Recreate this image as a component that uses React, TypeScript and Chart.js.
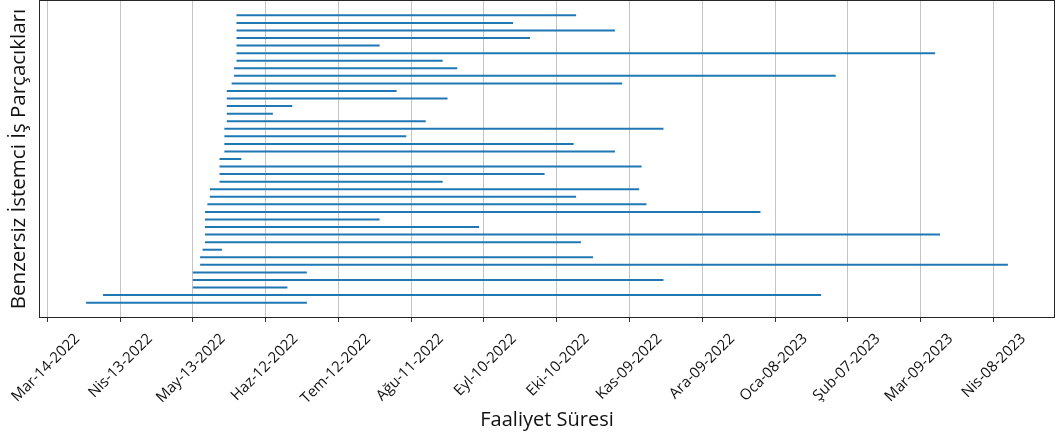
import React, { useEffect, useRef } from 'react';
import { Chart, registerables } from 'chart.js';

Chart.register(...registerables);

// Threads ordered bottom (index 0) to top
const threadStarts = [
  '2022-03-30', '2022-04-06', '2022-05-13', '2022-05-13', '2022-05-13',
  '2022-05-16', '2022-05-16', '2022-05-17', '2022-05-18', '2022-05-18',
  '2022-05-18', '2022-05-18', '2022-05-18', '2022-05-19', '2022-05-20',
  '2022-05-20', '2022-05-24', '2022-05-24', '2022-05-24', '2022-05-24',
  '2022-05-26', '2022-05-26', '2022-05-26', '2022-05-26', '2022-05-27',
  '2022-05-27', '2022-05-27', '2022-05-27', '2022-05-27', '2022-05-29',
  '2022-05-30', '2022-05-30', '2022-05-31', '2022-05-31', '2022-05-31',
  '2022-05-31', '2022-05-31', '2022-05-31', '2022-05-31',
];

const threadEnds = [
  '2022-06-29', '2023-01-27', '2022-06-21', '2022-11-23', '2022-06-29',
  '2023-04-14', '2022-10-25', '2022-05-25', '2022-10-20', '2023-03-17',
  '2022-09-08', '2022-07-29', '2023-01-02', '2022-11-16', '2022-10-18',
  '2022-11-13', '2022-08-24', '2022-10-05', '2022-11-14', '2022-06-02',
  '2022-11-03', '2022-10-17', '2022-08-09', '2022-11-23', '2022-08-17',
  '2022-06-15', '2022-06-23', '2022-08-26', '2022-08-05', '2022-11-06',
  '2023-02-02', '2022-08-30', '2022-08-24', '2023-03-15', '2022-07-29',
  '2022-09-29', '2022-11-03', '2022-09-22', '2022-10-18',
];

const tickDates = [
  '2022-03-14', '2022-04-13', '2022-05-13', '2022-06-12', '2022-07-12',
  '2022-08-11', '2022-09-10', '2022-10-10', '2022-11-09', '2022-12-09',
  '2023-01-08', '2023-02-07', '2023-03-09', '2023-04-08',
];

const monthNames = ['Oca', 'Şub', 'Mar', 'Nis', 'May', 'Haz', 'Tem', 'Ağu', 'Eyl', 'Eki', 'Kas', 'Ara'];

const xTitle = 'Faaliyet Süresi';
const yTitle = 'Benzersiz İstemci İş Parçacıkları';

const DAY = 86400000;
const toDays = (s: string) => Date.parse(s + 'T00:00:00Z') / DAY;
const fmt = (v: number) => {
  const d = new Date(Math.round(v) * DAY);
  return `${monthNames[d.getUTCMonth()]}-${String(d.getUTCDate()).padStart(2, '0')}-${d.getUTCFullYear()}`;
};

const W = 1059;
const H = 436;

const framePlugin = {
  id: 'frame',
  afterDatasetsDraw(chart: any) {
    const { ctx, chartArea } = chart;
    ctx.save();
    ctx.strokeStyle = '#262626';
    ctx.lineWidth = 1;
    ctx.strokeRect(
      Math.round(chartArea.left) - 0.5,
      Math.round(chartArea.top) - 0.5,
      Math.round(chartArea.right - chartArea.left) + 1,
      Math.round(chartArea.bottom - chartArea.top) + 1
    );
    ctx.restore();
  },
};

export default function App() {
  const ref = useRef<HTMLCanvasElement | null>(null);

  useEffect(() => {
    if (!ref.current) return;
    const starts = threadStarts.map(toDays);
    const ends = threadEnds.map(toDays);
    const dMin = Math.min(...starts);
    const dMax = Math.max(...ends);
    const xPad = (dMax - dMin) * 0.05;
    const n = threadStarts.length;
    const yPad = (n - 1) * 0.05;

    Chart.defaults.font.family = '"Open Sans", "DejaVu Sans", sans-serif';
    Chart.defaults.color = '#111';

    const chart = new Chart(ref.current, {
      type: 'scatter',
      data: {
        datasets: starts.map((s, i) => ({
          data: [
            { x: s, y: i },
            { x: ends[i], y: i },
          ],
          showLine: true,
          borderColor: '#1f77b4',
          backgroundColor: '#1f77b4',
          borderWidth: 2,
          pointRadius: 0,
          borderCapStyle: 'butt',
        })),
      },
      options: {
        responsive: false,
        animation: false,
        devicePixelRatio: 1,
        layout: { padding: { top: 1, right: 5, left: 0, bottom: 0 } },
        plugins: {
          legend: { display: false },
          tooltip: { enabled: false },
        },
        scales: {
          x: {
            type: 'linear',
            min: dMin - xPad,
            max: dMax + xPad,
            afterFit: (s: any) => {
              s.height = 119;
              s.paddingLeft = 0;
              s.paddingRight = 0;
            },
            afterBuildTicks: (s: any) => {
              s.ticks = tickDates.map((d) => ({ value: toDays(d) }));
            },
            ticks: {
              autoSkip: false,
              minRotation: 45,
              maxRotation: 45,
              padding: 8,
              labelOffset: 30,
              color: '#111',
              font: { size: 15 },
              callback: (v: any) => fmt(Number(v)),
            },
            grid: {
              color: '#c4c4c4',
              tickColor: '#333',
              tickLength: 5,
              lineWidth: 1,
            },
            border: { display: false },
            title: {
              display: true,
              text: xTitle,
              color: '#111',
              font: { size: 20 },
              padding: { top: 0, bottom: 4 },
            },
          },
          y: {
            type: 'linear',
            min: -yPad,
            max: n - 1 + yPad,
            afterFit: (s: any) => {
              s.width = 40;
            },
            ticks: { display: false },
            grid: { display: false },
            border: { display: false },
            title: {
              display: true,
              text: yTitle,
              color: '#111',
              font: { size: 20.5 },
              padding: { top: 7 },
            },
          },
        },
      },
      plugins: [framePlugin],
    } as any);
    return () => chart.destroy();
  }, []);

  return (
    <div style={{ position: 'fixed', left: 0, top: 0, width: W, height: H, background: '#fff' }}>
      <canvas ref={ref} width={W} height={H} />
    </div>
  );
}
